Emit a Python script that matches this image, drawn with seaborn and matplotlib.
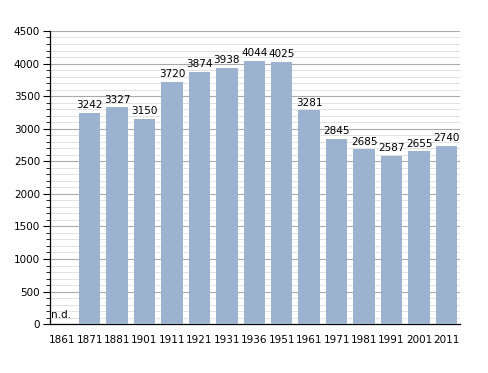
import matplotlib
matplotlib.use("Agg")
import matplotlib.pyplot as plt
import seaborn as sns
import pandas as pd
import numpy as np
from matplotlib.ticker import MultipleLocator

years = ["1861", "1871", "1881", "1901", "1911", "1921", "1931", "1936",
         "1951", "1961", "1971", "1981", "1991", "2001", "2011"]
population = [np.nan, 3242, 3327, 3150, 3720, 3874, 3938, 4044,
              4025, 3281, 2845, 2685, 2587, 2655, 2740]

df = pd.DataFrame({"Year": years, "Pop": population})

sns.set_theme(style="white")
plt.rcParams["font.family"] = ["DejaVu Sans"]
plt.rcParams["text.color"] = "black"
plt.rcParams["xtick.color"] = "black"
plt.rcParams["ytick.color"] = "black"

fig = plt.figure(figsize=(4.88, 3.73), dpi=100)
ax = fig.add_axes([0.102, 0.131, 0.841, 0.786])

bar_color = "#9bb3cf"
sns.barplot(data=df, x="Year", y="Pop", color=bar_color, width=0.78,
            saturation=1, edgecolor="none", linewidth=0, ax=ax, zorder=3)

ax.set_ylim(0, 4500)
ax.set_xlim(-0.45, 14.5)
ax.yaxis.set_major_locator(MultipleLocator(500))
ax.yaxis.set_minor_locator(MultipleLocator(100))
ax.grid(which="major", axis="y", color="#aaaaaa", linewidth=0.8, zorder=0)
ax.grid(which="minor", axis="y", color="#dddddd", linewidth=0.6, zorder=0)
ax.set_axisbelow(True)

for s in ["top", "right"]:
    ax.spines[s].set_visible(False)
for s in ["left", "bottom"]:
    ax.spines[s].set_color("black")
    ax.spines[s].set_linewidth(0.9)

ax.tick_params(axis="y", which="major", left=True, length=5, width=0.8,
               labelsize=7.5, color="black", labelcolor="black", pad=2)
ax.tick_params(axis="y", which="minor", left=True, length=3, width=0.6,
               color="black")
ax.tick_params(axis="x", bottom=False, labelsize=7.5, labelcolor="black", pad=2)
ax.set_xlabel("")
ax.set_ylabel("")

for i, v in enumerate(population):
    if np.isnan(v):
        ax.text(i - 0.4, 60, "n.d.", fontsize=7.5, ha="left", va="bottom",
                color="black")
    else:
        ax.text(i, v + 40, f"{int(v)}", fontsize=7.5, ha="center", va="bottom",
                color="black")

fig.savefig("out.png", dpi=100)
